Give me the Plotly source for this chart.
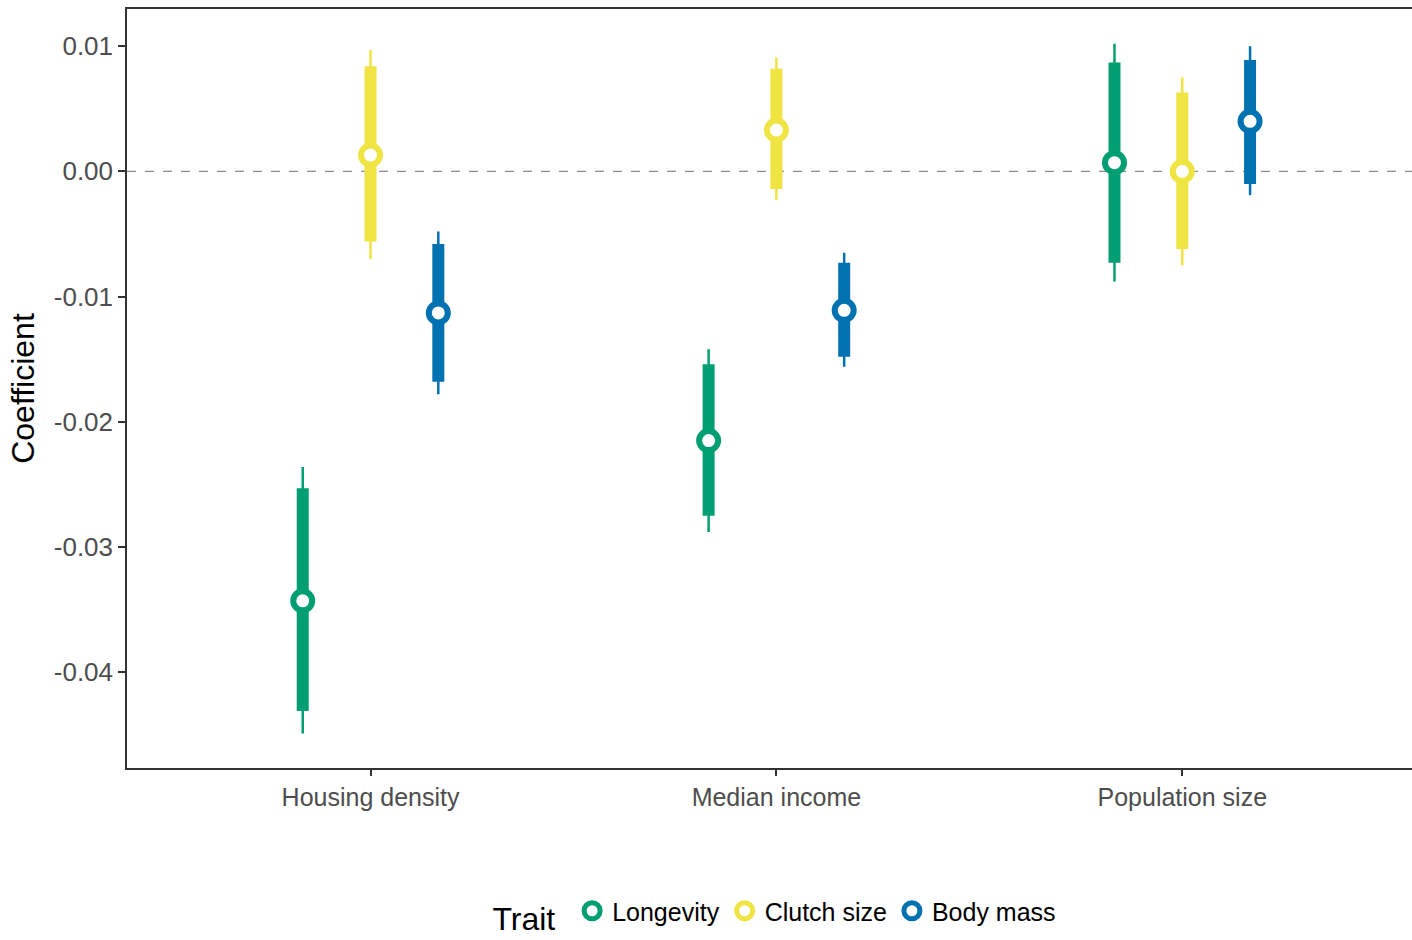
import plotly.graph_objects as go

categories = ["Housing density", "Median income", "Population size"]
traits = ["Longevity", "Clutch size", "Body mass"]
colors = ["#009E73", "#F0E442", "#0072B2"]
offsets = [-0.167, 0.0, 0.167]

# estimates, 50% (thick) and 95% (thin) intervals, per trait across categories
est = {
    "Longevity":   [-0.0343, -0.0215, 0.0007],
    "Clutch size": [0.0013, 0.0033, 0.0000],
    "Body mass":   [-0.0113, -0.0111, 0.0040],
}
inner_lo = {
    "Longevity":   [-0.0431, -0.0275, -0.0073],
    "Clutch size": [-0.0056, -0.0014, -0.0062],
    "Body mass":   [-0.0168, -0.0148, -0.0010],
}
inner_hi = {
    "Longevity":   [-0.0253, -0.0154, 0.0087],
    "Clutch size": [0.0084, 0.0082, 0.0063],
    "Body mass":   [-0.0058, -0.0073, 0.0089],
}
outer_lo = {
    "Longevity":   [-0.0449, -0.0288, -0.0088],
    "Clutch size": [-0.0070, -0.0023, -0.0075],
    "Body mass":   [-0.0178, -0.0156, -0.0019],
}
outer_hi = {
    "Longevity":   [-0.0236, -0.0142, 0.0102],
    "Clutch size": [0.0097, 0.0091, 0.0075],
    "Body mass":   [-0.0048, -0.0065, 0.0100],
}

fig = go.Figure()

fig.add_shape(type="line", xref="paper", yref="y", x0=0, x1=1, y0=0, y1=0,
              line=dict(color="#8C8C8C", width=1.2, dash="dash"), layer="below")

for t, c, off in zip(traits, colors, offsets):
    xs_thin, ys_thin, xs_thick, ys_thick = [], [], [], []
    for i in range(len(categories)):
        x = i + off
        xs_thin += [x, x, None]
        ys_thin += [outer_lo[t][i], outer_hi[t][i], None]
        xs_thick += [x, x, None]
        ys_thick += [inner_lo[t][i], inner_hi[t][i], None]
    fig.add_trace(go.Scatter(x=xs_thin, y=ys_thin, mode="lines",
                             line=dict(color=c, width=2.5), showlegend=False,
                             hoverinfo="skip"))
    fig.add_trace(go.Scatter(x=xs_thick, y=ys_thick, mode="lines",
                             line=dict(color=c, width=12), showlegend=False,
                             hoverinfo="skip"))
    fig.add_trace(go.Scatter(x=[i + off for i in range(len(categories))], y=est[t],
                             mode="markers", name=t,
                             marker=dict(symbol="circle", size=19, color="white",
                                         line=dict(color=c, width=6))))

fig.update_layout(
    width=1412, height=940,
    margin=dict(l=127, r=0, t=9, b=169),
    paper_bgcolor="white", plot_bgcolor="white",
    font=dict(family="Liberation Sans, Arial, sans-serif", size=25, color="#4D4D4D"),
    xaxis=dict(range=[-0.6, 2.566], tickvals=[0, 1, 2], ticktext=categories,
               showgrid=False, zeroline=False, showline=True, linecolor="#333333",
               linewidth=1.5, mirror=True, ticks="outside", ticklen=6, tickwidth=1.5,
               tickcolor="#333333", tickfont=dict(size=25, color="#4D4D4D")),
    yaxis=dict(range=[-0.04765, 0.01297], tickvals=[0.01, 0.0, -0.01, -0.02, -0.03, -0.04],
               ticktext=["0.01", "0.00", "-0.01", "-0.02", "-0.03", "-0.04"],
               showgrid=False, zeroline=False, showline=True, linecolor="#333333",
               linewidth=1.5, mirror=False, ticks="outside", ticklen=7, tickwidth=1.5,
               tickcolor="#333333", tickfont=dict(size=26, color="#4D4D4D"),
               title=dict(text="Coefficient", font=dict(size=32, color="black"), standoff=10)),
    legend=dict(orientation="h", x=0.505, xanchor="center", y=-0.193, yanchor="middle",
                title=dict(text="Trait ", font=dict(size=32, color="black")),
                font=dict(size=25, color="black"), itemsizing="trace"),
)

fig.write_html("out.html", config={"displayModeBar": False},
               post_script="document.body.style.margin='0';document.body.style.overflow='hidden';")
